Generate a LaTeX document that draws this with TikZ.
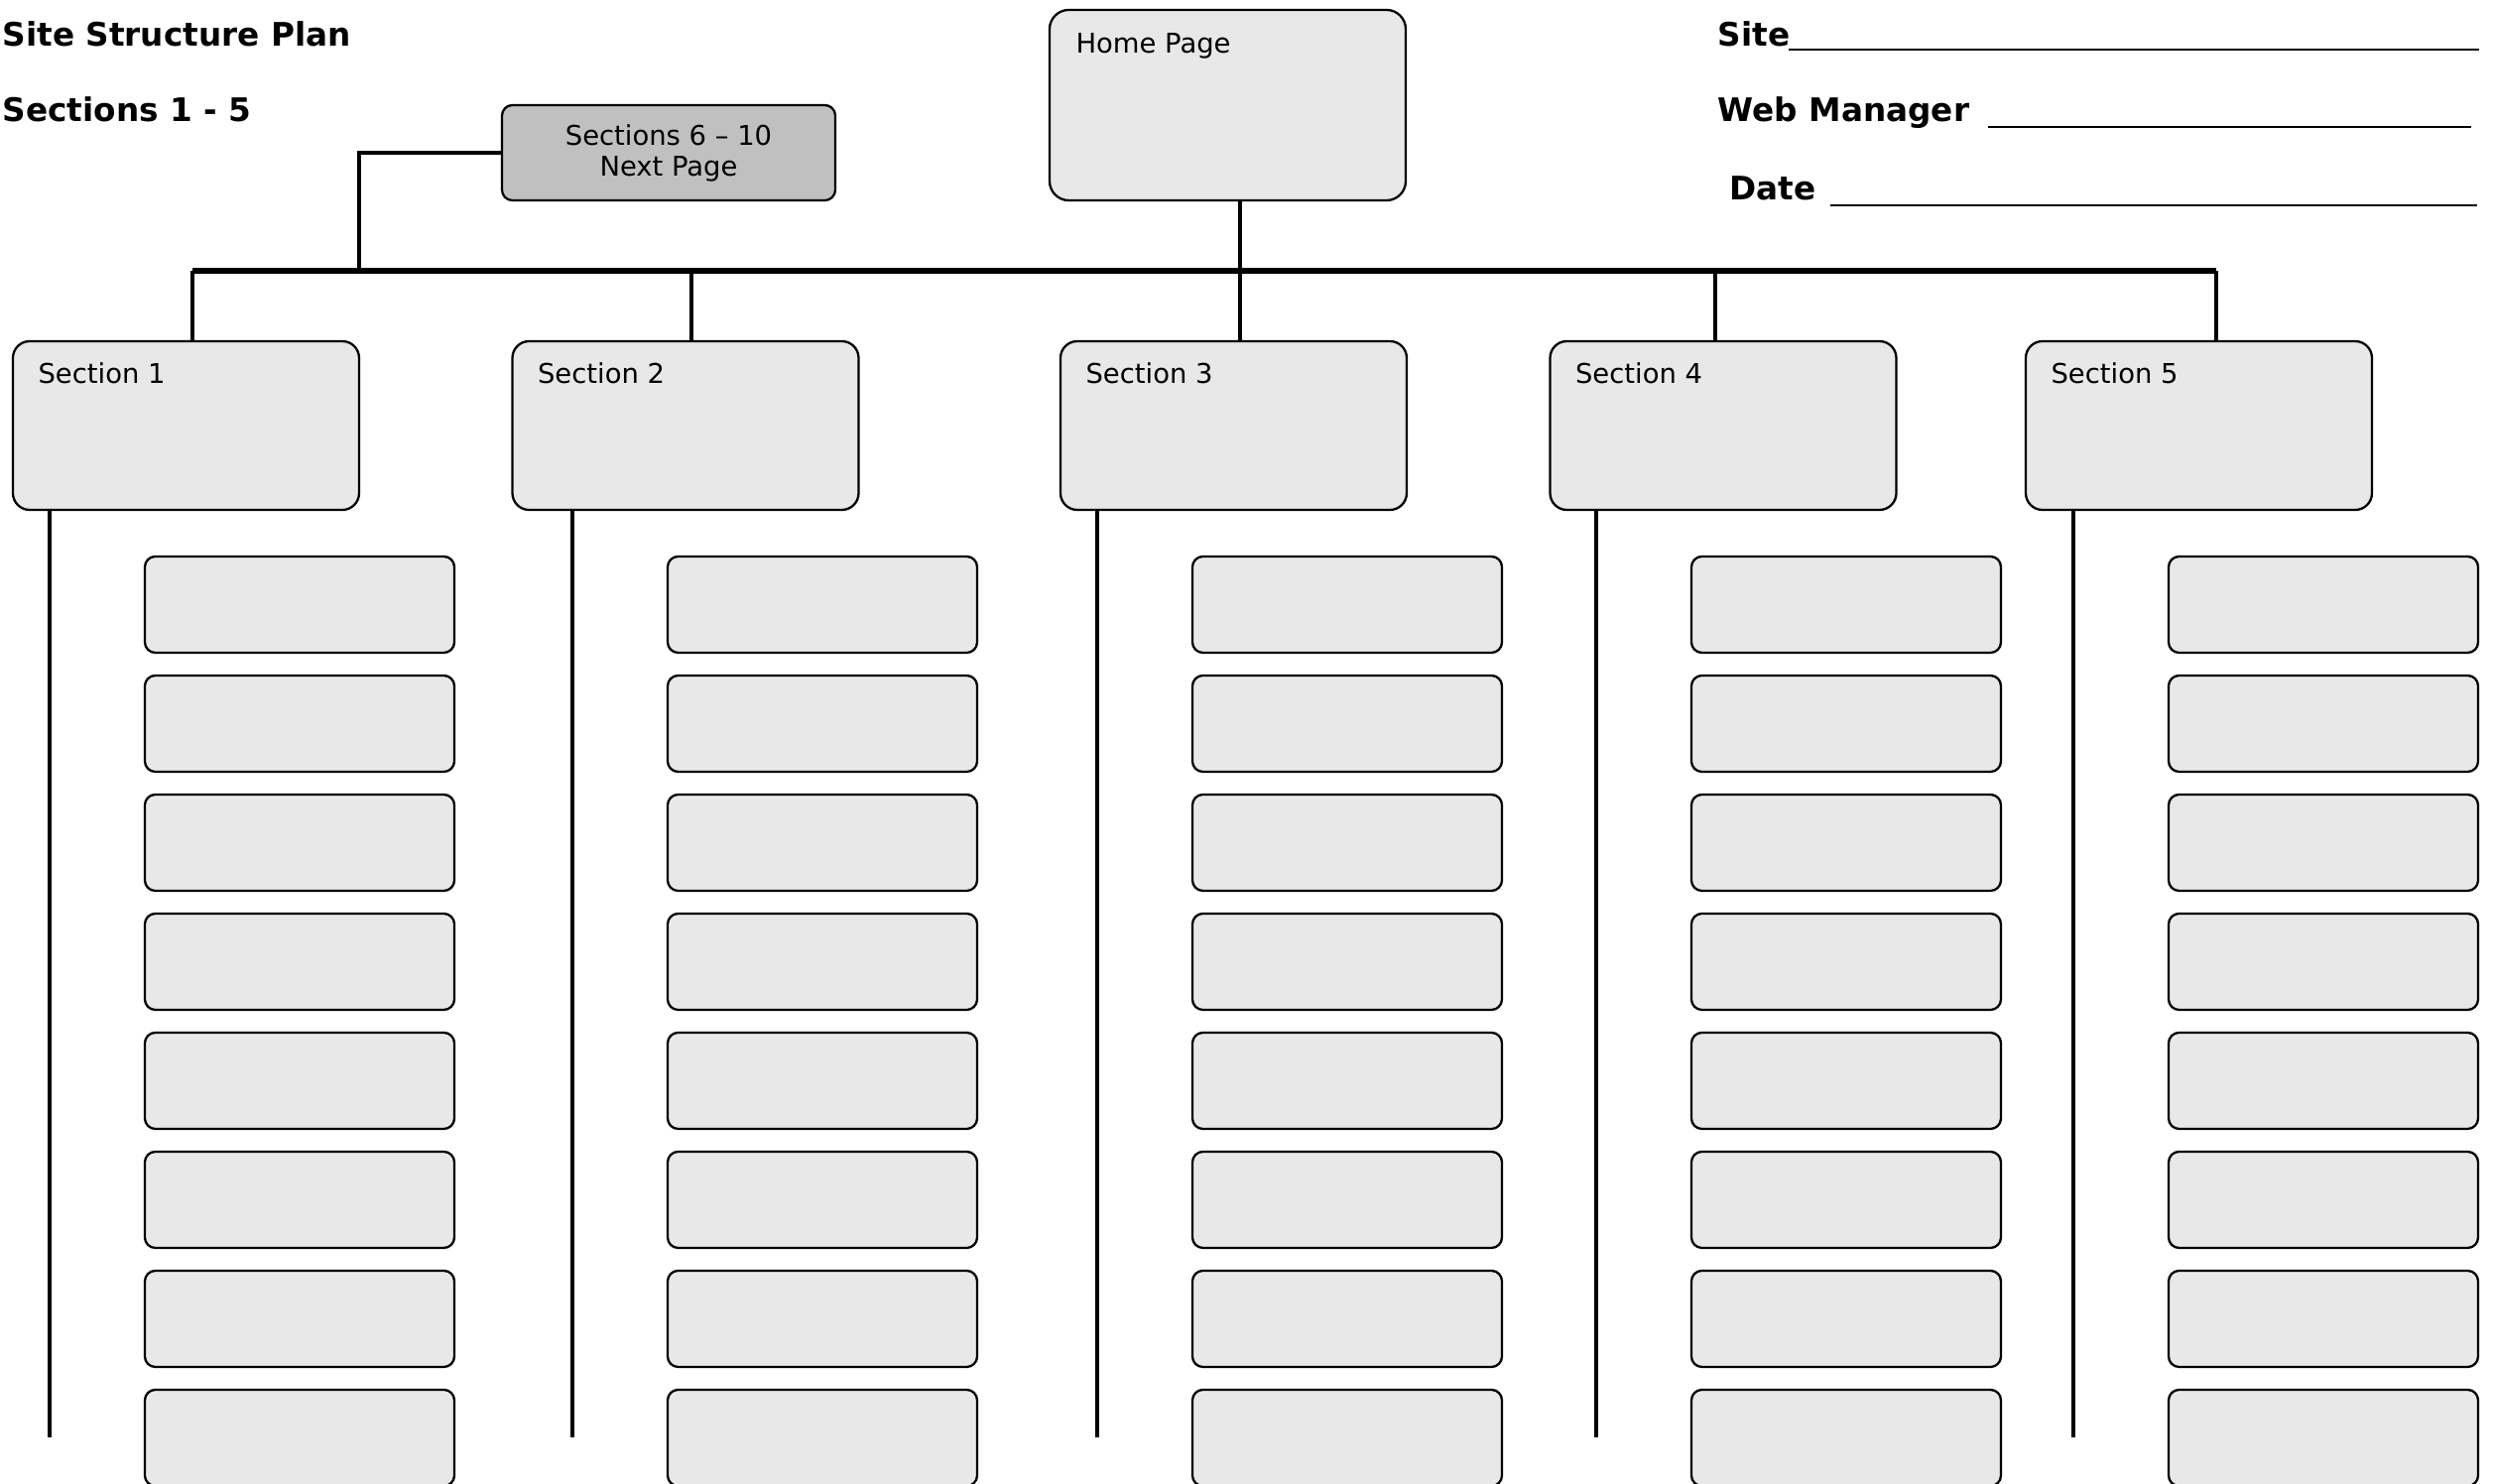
\documentclass[tikz,border=0pt]{standalone}
\usepackage{fontspec}
\setmainfont{DejaVu Sans}
\usetikzlibrary{positioning}
\definecolor{boxgray}{HTML}{E8E8E8}
\definecolor{navgray}{HTML}{C0C0C0}
\begin{document}
\begin{tikzpicture}[
    secbox/.style={draw, line width=0.65pt, fill=boxgray, rounded corners=4.8pt,
        minimum width=3.49cm, minimum height=1.70cm, inner sep=0pt},
    pagebox/.style={draw, line width=0.65pt, fill=boxgray, rounded corners=3pt,
        minimum width=3.12cm, minimum height=0.97cm, inner sep=0pt},
    lbl/.style={anchor=base west, inner sep=0pt, font=\fontsize{7.8}{9}\selectfont},
    head/.style={anchor=base west, inner sep=0pt, font=\fontsize{9.3}{11}\selectfont\bfseries},
    bus/.style={line width=1.6pt},
    link/.style={line width=1.25pt},
    blank/.style={line width=0.75pt}
]
    \useasboundingbox (0,0) rectangle (25.13,-14.96);

    % titles
    \node[head] (title) at (0.02,-0.47) {Site Structure Plan};
    \node[head] (range) at (0.02,-1.23) {Sections 1 - 5};

    % fill in fields
    \node[head] (site) at (17.31,-0.47) {Site};
    \node[head] (manager) at (17.31,-1.23) {Web Manager};
    \node[head] (date) at (17.43,-2.02) {Date};
    \draw[blank] (18.03,-0.50) -- (24.99,-0.50);
    \draw[blank] (20.04,-1.28) -- (24.91,-1.28);
    \draw[blank] (18.45,-2.07) -- (24.97,-2.07);

    % home page and next page
    \node[draw, line width=0.65pt, fill=boxgray, rounded corners=5.5pt,
        minimum width=3.59cm, minimum height=1.92cm, inner sep=0pt] (home) at (12.375,-1.06) {};
    \node[lbl] (homelbl) at ([xshift=0.27cm,yshift=-0.45cm]home.north west) {Home Page};
    \node[draw, line width=0.65pt, fill=navgray, rounded corners=3pt, align=center,
        minimum width=3.36cm, minimum height=0.96cm, inner sep=0pt,
        font=\fontsize{7.8}{8.8}\selectfont] (next) at (6.74,-1.54) {Sections 6 -- 10\\Next Page};

    % main bar
    \coordinate (nav) at (3.62,-2.73);
    \coordinate (t1) at (1.94,-2.73);
    \coordinate (t5) at (22.34,-2.73);
    \draw[bus] (t1) -- (t5);
    \draw[link] (next.west) -| (nav);

    % sections and their pages
    \foreach \n/\x/\t/\d/\p in {1/1.875/1.94/0.50/3.02, 2/6.91/6.97/5.77/8.29,
        3/12.435/12.50/11.06/13.58, 4/17.37/17.29/16.09/18.61, 5/22.165/22.34/20.90/23.42} {
        \node[secbox] (s\n) at (\x,-4.29) {};
        \node[lbl] (s\n lbl) at ([xshift=0.26cm,yshift=-0.44cm]s\n.north west) {Section \n};
        \coordinate (t\n) at (\t,-2.73);
        \draw[link] (t\n) -- (t\n |- s\n.north);
        \coordinate (e\n) at (\d,-14.49);
        \draw[link] (e\n |- s\n.south) -- (e\n);
        \foreach \k in {0,...,7}
            \node[pagebox] (p\n-\k) at (\p,-6.095-1.2*\k) {};
    }

    \draw[link] (home.south -| t3) -- (t3);
\end{tikzpicture}
\end{document}
